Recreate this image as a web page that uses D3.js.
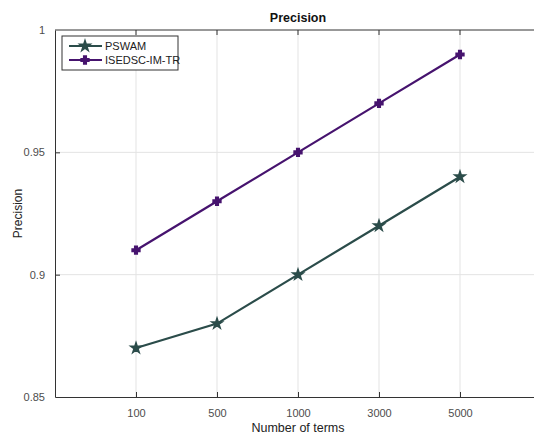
<!DOCTYPE html>
<head>
    <meta charset="utf-8">
    <style>
        body { margin: 0; background: #fff; font-family: "Liberation Sans", Arial, sans-serif; }
        .tick text { fill: #4d4d4d; font-size: 11px; }
    </style>
</head>
<body>
    <svg id="chart" width="534" height="435"></svg>
    <script src="https://d3js.org/d3.v7.min.js"></script>
    <script>
        var categories = ["100", "500", "1000", "3000", "5000"]
        var pswam = [0.87, 0.88, 0.90, 0.92, 0.94]
        var isedsc = [0.91, 0.93, 0.95, 0.97, 0.99]
        var yTicks = [0.85, 0.9, 0.95, 1]

        var margins = { top: 30, left: 55 }
        var width = 486, height = 367

        var svg = d3.select("#chart")
        var g = svg.append("g").attr("transform", `translate(${margins.left},${margins.top})`)

        var x = d3.scaleLinear().domain([0, categories.length + 1]).range([0, width])
        var y = d3.scaleLinear().domain([0.85, 1]).range([height, 0])

        // grid
        g.selectAll(".xgrid").data(categories).join("line")
            .attr("x1", (d, i) => x(i + 1)).attr("x2", (d, i) => x(i + 1))
            .attr("y1", 0).attr("y2", height)
            .attr("stroke", "#e3e3e3").attr("stroke-width", 1)
        g.selectAll(".ygrid").data(yTicks.slice(1, -1)).join("line")
            .attr("x1", 0).attr("x2", width)
            .attr("y1", d => y(d)).attr("y2", d => y(d))
            .attr("stroke", "#e3e3e3").attr("stroke-width", 1)

        // axes (ticks inward)
        var xAxis = d3.axisBottom(x).tickValues(d3.range(1, categories.length + 1))
            .tickFormat(d => categories[d - 1]).tickSizeInner(-5).tickSizeOuter(0).tickPadding(18)
        var gx = g.append("g").attr("transform", `translate(0,${height})`).call(xAxis)
        var yAxis = d3.axisLeft(y).tickValues(yTicks).tickFormat(d3.format("")).tickSizeInner(-5).tickSizeOuter(0).tickPadding(10)
        var gy = g.append("g").call(yAxis)
        gy.selectAll(".tick").filter(d => d == 1 || d == 0.85).select("line").remove()
        g.append("line").attr("x1", 0).attr("x2", width).attr("y1", 0).attr("y2", 0).attr("stroke", "#333")
        g.selectAll(".toptick").data(categories).join("line")
            .attr("x1", (d, i) => x(i + 1)).attr("x2", (d, i) => x(i + 1))
            .attr("y1", 0).attr("y2", 5).attr("stroke", "#333")
        ;[gx, gy].forEach(a => a.selectAll("path, line").attr("stroke", "#333"))
        gx.selectAll(".tick text").attr("dy", "0.2em")

        // lines
        var series = [
            { name: "PSWAM", values: pswam, color: "#2b4c4a", symbol: d3.symbolStar, size: 34 },
            { name: "ISEDSC-IM-TR", values: isedsc, color: "#46136e", symbol: d3.symbolCross, size: 34 }
        ]
        var line = d3.line().x((d, i) => x(i + 1)).y(d => y(d))

        series.forEach(s => {
            g.append("path").datum(s.values)
                .attr("d", line).attr("fill", "none")
                .attr("stroke", s.color).attr("stroke-width", 2.2)
            g.selectAll(null).data(s.values).join("path")
                .attr("transform", (d, i) => `translate(${x(i + 1)},${y(d)})`)
                .attr("d", d3.symbol().type(s.symbol).size(s.size))
                .attr("fill", s.color).attr("stroke", s.color).attr("stroke-width", 1.5)
        })

        // legend
        var lg = g.append("g").attr("transform", "translate(7,6)")
        lg.append("rect").attr("width", 116).attr("height", 34)
            .attr("fill", "#fff").attr("stroke", "#333").attr("stroke-width", 1)
        series.forEach((s, i) => {
            var row = lg.append("g").attr("transform", `translate(0,${10 + i * 14})`)
            row.append("line").attr("x1", 7).attr("x2", 40).attr("stroke", s.color).attr("stroke-width", 2.2)
            row.append("path").attr("transform", "translate(23,0)")
                .attr("d", d3.symbol().type(s.symbol).size(s.size)).attr("fill", s.color)
                .attr("stroke", s.color).attr("stroke-width", 1.5)
            row.append("text").attr("x", 43).attr("dy", "0.35em")
                .attr("font-size", "11px").attr("fill", "#222").text(s.name)
        })

        // titles
        svg.append("text").attr("x", margins.left + width / 2).attr("y", 22)
            .attr("text-anchor", "middle").attr("font-weight", "bold").attr("font-size", "12.5px")
            .attr("fill", "#111").text("Precision")
        svg.append("text").attr("x", margins.left + width / 2).attr("y", 432)
            .attr("text-anchor", "middle").attr("font-size", "12.5px").attr("fill", "#222")
            .text("Number of terms")
        svg.append("text").attr("transform", `translate(22,${margins.top + height / 2}) rotate(-90)`)
            .attr("text-anchor", "middle").attr("font-size", "12px").attr("fill", "#222")
            .text("Precision")
    </script>
</body>
